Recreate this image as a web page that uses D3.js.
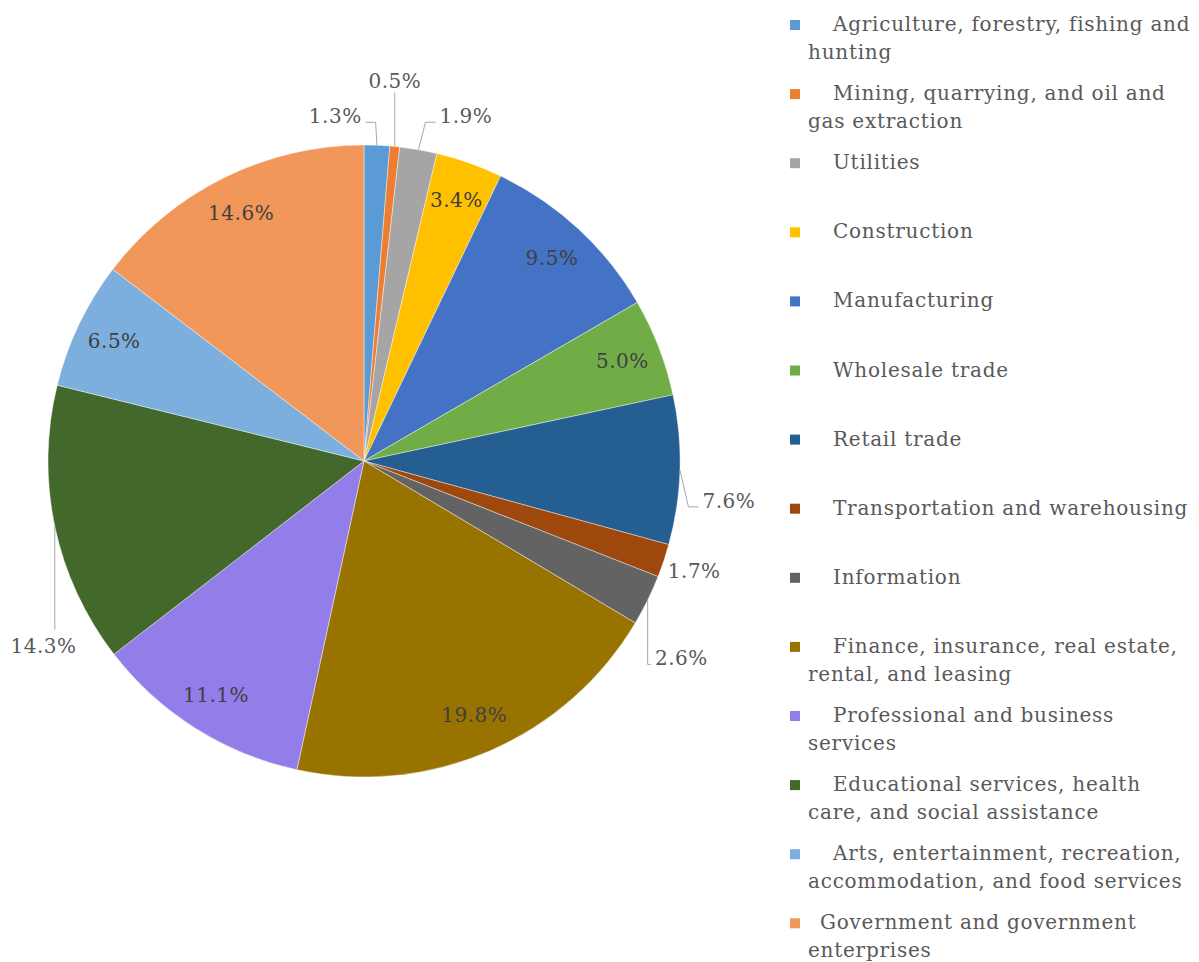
<!DOCTYPE html>
<html>
<head>
<meta charset="utf-8">
<script src="https://cdn.jsdelivr.net/npm/d3@7"></script>
<style>
  html, body { margin: 0; padding: 0; background: #fff; }
  svg { display: block; }
</style>
</head>
<body>
<svg id="chart" width="1199" height="962"></svg>
<script>
// ---- data ----
const categories = [
  "Agriculture, forestry, fishing and\nhunting",
  "Mining, quarrying, and oil and\ngas extraction",
  "Utilities",
  "Construction",
  "Manufacturing",
  "Wholesale trade",
  "Retail trade",
  "Transportation and warehousing",
  "Information",
  "Finance, insurance, real estate,\nrental, and leasing",
  "Professional and business\nservices",
  "Educational services, health\ncare, and social assistance",
  "Arts, entertainment, recreation,\naccommodation, and food services",
  "Government and government\nenterprises"
];
const shares = [1.3, 0.5, 1.9, 3.4, 9.5, 5.0, 7.6, 1.7, 2.6, 19.8, 11.1, 14.3, 6.5, 14.6];
const colors = [
  "#5B9BD5", "#ED7D31", "#A5A5A5", "#FFC000", "#4472C4", "#70AD47", "#255E91",
  "#9E480E", "#636363", "#997300", "#937DE8", "#43682B", "#7CAFDD", "#F1975A"
];
// labels placed outside the pie (index -> nudge from the default outside position)
const outsideNudge = { 0: [-43, 3], 1: [-3, -34], 2: [42, -2], 6: [17, 30], 7: [0, 0], 8: [5, 44], 11: [20, 113] };
const noLeader = [7];
// legend first-line indent (leading spaces in the original)
const legendIndent = [25, 25, 25, 25, 25, 25, 25, 25, 25, 25, 25, 25, 25, 12];

// ---- layout ----
const cx = 364, cy = 461, R = 316;
const insideR = 277, outsideR = 348;
const FONT = "'DejaVu Serif', serif";

const svg = d3.select("#chart");
const g = svg.append("g").attr("transform", `translate(${cx},${cy})`);

const pie = d3.pie().sort(null).value(d => d)(shares);
const arc = d3.arc().innerRadius(0).outerRadius(R);

g.selectAll("path.slice")
  .data(pie)
  .join("path")
  .attr("class", "slice")
  .attr("d", arc)
  .attr("fill", (d, i) => colors[i])
  .attr("stroke", "#ffffff")
  .attr("stroke-opacity", 0.55)
  .attr("stroke-width", 0.75);

const fmt = v => v.toFixed(1) + "%";
const polar = (r, a) => [r * Math.sin(a), -r * Math.cos(a)];

// inside labels
pie.forEach((d, i) => {
  if (outsideNudge[i] !== undefined) return;
  const a = (d.startAngle + d.endAngle) / 2;
  const [x, y] = polar(insideR, a);
  g.append("text")
    .attr("x", x).attr("y", y)
    .attr("text-anchor", "middle")
    .attr("dominant-baseline", "central")
    .attr("font-family", FONT)
    .attr("font-size", 20)
    .attr("letter-spacing", 0.5)
    .attr("fill", "#404040")
    .text(fmt(shares[i]));
});

// outside labels + leader lines
pie.forEach((d, i) => {
  if (outsideNudge[i] === undefined) return;
  const a = (d.startAngle + d.endAngle) / 2;
  const [bx, by] = polar(outsideR, a);
  const [nx, ny] = outsideNudge[i];
  const x = bx + nx, y = by + ny;
  const t = g.append("text")
    .attr("x", x).attr("y", y)
    .attr("text-anchor", "middle")
    .attr("dominant-baseline", "central")
    .attr("font-family", FONT)
    .attr("font-size", 20)
    .attr("letter-spacing", 0.5)
    .attr("fill", "#595959")
    .text(fmt(shares[i]));
  if (noLeader.includes(i)) return;
  const bb = t.node().getBBox();
  const [ex, ey] = polar(R, a);
  let pts;
  if (ex >= bb.x && ex <= bb.x + bb.width) {
    const endY = (bb.y + bb.height / 2 < ey) ? bb.y + bb.height : bb.y - 4;
    pts = [[ex, ey], [ex, endY]];
  } else {
    const left = (bb.x + bb.width / 2) < ex;
    const endX = left ? bb.x + bb.width + 4 : bb.x - 4;
    const endY = y + 6;
    const step = Math.min(10, Math.abs(endX - ex));
    const elbowX = left ? endX + step : endX - step;
    pts = [[ex, ey], [elbowX, endY], [endX, endY]];
  }
  g.append("path")
    .attr("d", d3.line()(pts))
    .attr("fill", "none")
    .attr("stroke", "#A6A6A6")
    .attr("stroke-width", 1);
});

// ---- legend ----
const legX = 790, legTextX = 808, legY0 = 24, legStep = 69.1, lineH = 28, sw = 10;
const leg = svg.append("g");
categories.forEach((c, i) => {
  const yc = legY0 + i * legStep;
  leg.append("rect")
    .attr("x", legX).attr("y", yc - sw / 2 + 1)
    .attr("width", sw).attr("height", sw)
    .attr("fill", colors[i]);
  const lines = c.split("\n");
  lines.forEach((ln, k) => {
    leg.append("text")
      .attr("x", k === 0 ? legTextX + legendIndent[i] : legTextX)
      .attr("y", yc + k * lineH)
      .attr("dominant-baseline", "central")
      .attr("font-family", FONT)
      .attr("font-size", 20)
      .attr("letter-spacing", 0.75)
      .attr("fill", "#595959")
      .text(ln);
  });
});
</script>
</body>
</html>
